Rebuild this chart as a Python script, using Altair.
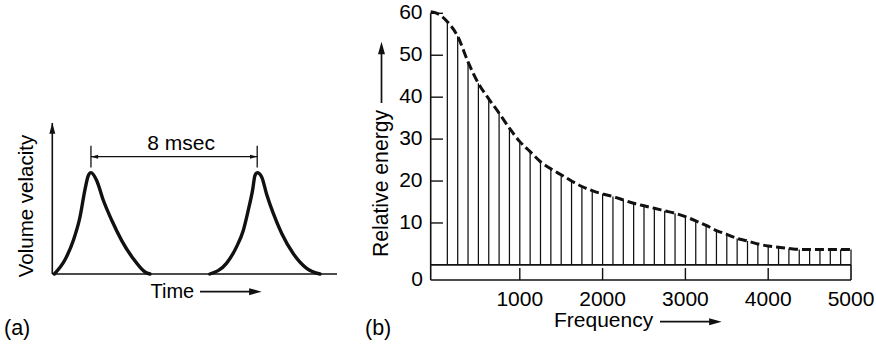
import altair as alt
import pandas as pd

FONT = "Liberation Sans"
INK = "#111111"
TXT = "#000000"
FS = 21

# ---------------- data ----------------
# (a) glottal pulses: time (msec) vs relative volume velocity
pulse1_time = [0.10, 0.61, 1.01, 1.33, 1.57, 1.73, 1.86, 2.14, 2.45, 2.86, 3.34, 3.90, 4.46, 4.70]
pulse1_amp = [0.00, 0.14, 0.33, 0.56, 0.83, 0.97, 1.00, 0.92, 0.73, 0.53, 0.33, 0.15, 0.02, 0.00]
pulse2_time = [7.58, 8.38, 8.87, 9.19, 9.43, 9.64, 9.75, 9.86, 10.07, 10.31, 10.63, 11.04, 11.60, 12.24, 12.88]
pulse2_amp = [0.00, 0.105, 0.27, 0.43, 0.63, 0.83, 0.97, 1.00, 0.96, 0.79, 0.60, 0.40, 0.20, 0.056, 0.00]
period_marks = [1.86, 9.86]          # msec, the two pulse peaks
period_label = "8 msec"

# (b) line spectrum: harmonics of 125 Hz and their relative energy
harmonic_freq = [125, 250, 375, 500, 625, 750, 875, 1000, 1125, 1250,
                 1375, 1500, 1625, 1750, 1875, 2000, 2125, 2250, 2375, 2500,
                 2625, 2750, 2875, 3000, 3125, 3250, 3375, 3500, 3625, 3750,
                 3875, 4000, 4125, 4250, 4375, 4500, 4625, 4750, 4875, 5000]
harmonic_energy = [58.0, 54.5, 48.4, 43.3, 39.6, 36.2, 32.6, 29.4, 27.0, 24.6,
                   22.9, 21.5, 20.0, 18.7, 17.7, 16.9, 16.3, 15.5, 14.7, 14.1,
                   13.5, 12.9, 12.3, 11.5, 10.5, 9.4, 8.2, 7.3, 6.3, 5.7,
                   5.0, 4.5, 4.2, 3.9, 3.7, 3.7, 3.7, 3.7, 3.7, 3.7]
envelope_freq = [-76, 0] + harmonic_freq
envelope_energy = [60.4, 60.0] + harmonic_energy
x_tick_values = [1000, 2000, 3000, 4000, 5000]
x_tick_labels = ["1000", "2000", "3000", "4000", "5000"]
y_tick_values = [10, 20, 30, 40, 50, 60]
y_tick_labels = ["10", "20", "30", "40", "50", "60"]

ARROW = "M0,-1L0.5,0.8L-0.5,0.8Z"

# ---------------- layout ----------------
WA, WB, H = 360, 516, 349
OX = WA  # left edge of panel (b)

xa = alt.Scale(domain=[0, 13.7], range=[52.3, 337], nice=False, zero=False)
ya = alt.Scale(domain=[0, 1.49], range=[274, 123], nice=False, zero=False)
xb = alt.Scale(domain=[-76, 5000], range=[430.7 - OX, 851 - OX], nice=False, zero=False)
yb = alt.Scale(domain=[-3.6, 60], range=[280, 13.3], nice=False, zero=False)


def label(text, x, y, size=FS, align="left", baseline="alphabetic", angle=0):
    mk = dict(font=FONT, fontSize=size, color=TXT, align=align, baseline=baseline)
    if angle:
        mk["angle"] = angle
    return alt.Chart(pd.DataFrame({"label": [text]})).mark_text(**mk).encode(
        x=alt.value(x), y=alt.value(y), text="label:N")


def px_line(x0, y0, x1, y1, w=1.6):
    return alt.Chart(pd.DataFrame({"k": [0]})).mark_rule(color=INK, strokeWidth=w).encode(
        x=alt.value(x0), x2=alt.value(x1), y=alt.value(y0), y2=alt.value(y1))


def px_head(cx, cy, angle, size=196):
    mk = dict(shape=ARROW, filled=True, color=INK, opacity=1, size=size, strokeWidth=0)
    if angle:
        mk["angle"] = angle
    return alt.Chart(pd.DataFrame({"k": [0]})).mark_point(**mk).encode(
        x=alt.value(cx), y=alt.value(cy))


# ---------------- panel (a) ----------------
pulses_df = pd.DataFrame({
    "t": pulse1_time + pulse2_time,
    "a": pulse1_amp + pulse2_amp,
    "pulse": ["1"] * len(pulse1_time) + ["2"] * len(pulse2_time),
})
pulses = alt.Chart(pulses_df).mark_line(
    color=INK, strokeWidth=3.4, interpolate="monotone", strokeCap="round", strokeJoin="round"
).encode(
    x=alt.X("t:Q", scale=xa, axis=None),
    y=alt.Y("a:Q", scale=ya, axis=None),
    detail="pulse:N",
)

a_frame = pd.DataFrame({"x0": [0, 0], "x1": [0, 13.7], "y0": [0, 0], "y1": [1.49, 0]})
a_axes = alt.Chart(a_frame).mark_rule(color=INK, strokeWidth=1.6).encode(
    x=alt.X("x0:Q", scale=xa, axis=None), x2="x1:Q",
    y=alt.Y("y0:Q", scale=ya, axis=None), y2="y1:Q",
)
a_head = alt.Chart(pd.DataFrame({"t": [0], "a": [1.49]})).mark_point(
    shape=ARROW, filled=True, color=INK, opacity=1, size=144, strokeWidth=0, yOffset=6
).encode(x=alt.X("t:Q", scale=xa, axis=None), y=alt.Y("a:Q", scale=ya, axis=None))

per_df = pd.DataFrame({"t": period_marks, "y0": [1.05, 1.05], "y1": [1.265, 1.265]})
per_ticks = alt.Chart(per_df).mark_rule(color=INK, strokeWidth=1.3).encode(
    x=alt.X("t:Q", scale=xa, axis=None),
    y=alt.Y("y0:Q", scale=ya, axis=None), y2="y1:Q",
)
per_line_df = pd.DataFrame({"t0": [period_marks[0]], "t1": [period_marks[1]], "a": [1.158]})
per_line = alt.Chart(per_line_df).mark_rule(color=INK, strokeWidth=1.1).encode(
    x=alt.X("t0:Q", scale=xa, axis=None), x2="t1:Q",
    y=alt.Y("a:Q", scale=ya, axis=None),
)
per_head_l = alt.Chart(pd.DataFrame({"t": [period_marks[0]], "a": [1.158]})).mark_point(
    shape=ARROW, filled=True, color=INK, opacity=1, size=64, strokeWidth=0, angle=270, xOffset=4
).encode(x=alt.X("t:Q", scale=xa, axis=None), y=alt.Y("a:Q", scale=ya, axis=None))
per_head_r = alt.Chart(pd.DataFrame({"t": [period_marks[1]], "a": [1.158]})).mark_point(
    shape=ARROW, filled=True, color=INK, opacity=1, size=64, strokeWidth=0, angle=90, xOffset=-4
).encode(x=alt.X("t:Q", scale=xa, axis=None), y=alt.Y("a:Q", scale=ya, axis=None))
per_text = alt.Chart(pd.DataFrame({
    "t": [(period_marks[0] + period_marks[1]) / 2], "a": [1.224], "label": [period_label]
})).mark_text(font=FONT, fontSize=FS, color=TXT, align="center", baseline="alphabetic", dx=7).encode(
    x=alt.X("t:Q", scale=xa, axis=None), y=alt.Y("a:Q", scale=ya, axis=None), text="label:N"
)

panel_a = alt.layer(
    a_axes, a_head, pulses, per_ticks, per_line, per_head_l, per_head_r, per_text,
    label("Volume velacity", 32.5, 206, size=20.5, align="center", angle=270),
    label("Time", 150.5, 298.3, size=20),
    px_line(200, 291.7, 256, 291.7, w=1.7),
    px_head(254.7, 291.7, 90),
    label("(a)", 4, 335, size=21.5),
).properties(width=WA, height=H)

# ---------------- panel (b) ----------------
stems_df = pd.DataFrame({"f": harmonic_freq, "v": harmonic_energy, "base": [0.0] * len(harmonic_freq)})
stems = alt.Chart(stems_df).mark_rule(color=INK, strokeWidth=1.25).encode(
    x=alt.X("f:Q", scale=xb, axis=None),
    y=alt.Y("v:Q", scale=yb, axis=None), y2="base:Q",
)
env = alt.Chart(pd.DataFrame({"f": envelope_freq, "v": envelope_energy})).mark_line(
    color=INK, strokeWidth=3.0, strokeDash=[9, 4], interpolate="monotone"
).encode(
    x=alt.X("f:Q", scale=xb, axis=None),
    y=alt.Y("v:Q", scale=yb, axis=None),
)
b_frame = pd.DataFrame({
    "x0": [-76, -76, -76, 5000],
    "x1": [5000, 5000, -76, 5000],
    "y0": [0, -3.6, -3.6, -3.6],
    "y1": [0, -3.6, 60, 0],
})
b_axes = alt.Chart(b_frame).mark_rule(color=INK, strokeWidth=1.6).encode(
    x=alt.X("x0:Q", scale=xb, axis=None), x2="x1:Q",
    y=alt.Y("y0:Q", scale=yb, axis=None), y2="y1:Q",
)
xt_df = pd.DataFrame({"f": x_tick_values, "label": x_tick_labels,
                      "y0": [-3.6] * 5, "y1": [-0.75] * 5})
x_ticks = alt.Chart(xt_df[xt_df.f < 5000]).mark_rule(color=INK, strokeWidth=1.4).encode(
    x=alt.X("f:Q", scale=xb, axis=None),
    y=alt.Y("y0:Q", scale=yb, axis=None), y2="y1:Q",
)
x_labels = alt.Chart(xt_df).mark_text(
    font=FONT, fontSize=FS, color=TXT, align="center", baseline="alphabetic"
).encode(x=alt.X("f:Q", scale=xb, axis=None), y=alt.value(305.5), text="label:N")

yt_df = pd.DataFrame({"v": y_tick_values, "label": y_tick_labels,
                      "x0": [-76] * 6, "x1": [72] * 6})
y_ticks = alt.Chart(yt_df).mark_rule(color=INK, strokeWidth=1.4).encode(
    x=alt.X("x0:Q", scale=xb, axis=None), x2="x1:Q",
    y=alt.Y("v:Q", scale=yb, axis=None),
)
y_labels = alt.Chart(yt_df).mark_text(
    font=FONT, fontSize=FS, color=TXT, align="right", baseline="middle"
).encode(x=alt.value(422.5 - OX), y=alt.Y("v:Q", scale=yb, axis=None), text="label:N")
zero_label = alt.Chart(pd.DataFrame({"v": [-3.6], "label": ["0"]})).mark_text(
    font=FONT, fontSize=FS, color=TXT, align="right", baseline="middle"
).encode(x=alt.value(423 - OX), y=alt.Y("v:Q", scale=yb, axis=None), text="label:N")

panel_b = alt.layer(
    stems, b_axes, x_ticks, y_ticks, env, x_labels, y_labels, zero_label,
    label("Relative energy", 387.5, 183.5, size=21.2, align="center", angle=270) if False else
    label("Relative energy", 387.5 - OX, 183.5, size=21.2, align="center", angle=270),
    px_line(381.5 - OX, 103, 381.5 - OX, 50, w=1.7),
    px_head(381.5 - OX, 48.7, 0),
    label("Frequency", 554 - OX, 326.5, size=21),
    px_line(660 - OX, 321.7, 716 - OX, 321.7, w=1.7),
    px_head(714.7 - OX, 321.7, 90),
    label("(b)", 365 - OX, 335, size=21.5),
).properties(width=WB, height=H)

chart = alt.hconcat(panel_a, panel_b, spacing=0, bounds="flush").properties(
    padding=0, background="white",
).configure_view(strokeWidth=0)

chart.save("out.html", embed_options={"renderer": "svg", "actions": False})
